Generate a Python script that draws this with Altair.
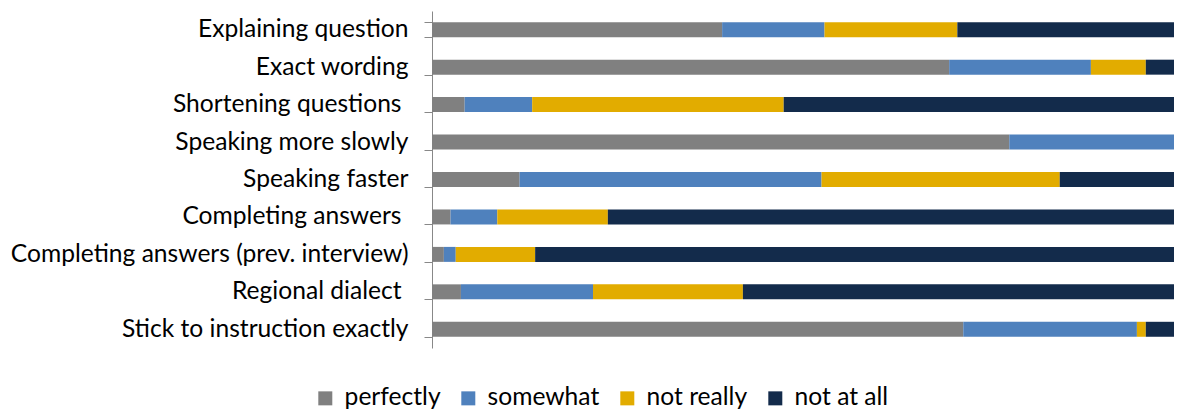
import altair as alt
import pandas as pd

categories = [
    "Explaining question",
    "Exact wording",
    "Shortening questions",
    "Speaking more slowly",
    "Speaking faster",
    "Completing answers",
    "Completing answers (prev. interview)",
    "Regional dialect",
    "Stick to instruction exactly",
]
# labels that carry a trailing space in the original
trailing_space = ["Shortening questions", "Completing answers", "Regional dialect"]
series = ["perfectly", "somewhat", "not really", "not at all"]
perfectly = [39.1, 69.7, 4.4, 77.8, 11.8, 2.5, 1.6, 3.9, 71.6]
somewhat = [13.8, 19.1, 9.1, 22.2, 40.7, 6.3, 1.6, 17.8, 23.4]
not_really = [17.9, 7.4, 33.9, 0.0, 32.1, 14.9, 10.7, 20.2, 1.2]
not_at_all = [29.2, 3.8, 52.6, 0.0, 15.4, 76.3, 86.1, 58.1, 3.8]
colors = ["#808080", "#4F81BD", "#E2AC00", "#132B4B"]

rows = []
for i, c in enumerate(categories):
    for j, (s, vals) in enumerate(zip(series, [perfectly, somewhat, not_really, not_at_all])):
        rows.append({"category": c, "series": s, "value": vals[i], "order": j})
df = pd.DataFrame(rows)

FONT = "Lato"
FS = 24.6

test_expr = "indexof(" + str(trailing_space) + ", datum.value) >= 0"

chart = (
    alt.Chart(df)
    .mark_bar()
    .encode(
        y=alt.Y(
            "category:N",
            sort=categories,
            scale=alt.Scale(paddingInner=0.6, paddingOuter=0.3),
            axis=alt.Axis(
                title=None,
                tickBand="extent",
                tickSize=8,
                tickColor="#888888",
                domainColor="#888888",
                labelFont=FONT,
                labelFontSize=FS,
                labelColor="#000000",
                labelPadding={"condition": {"test": test_expr, "value": 23}, "value": 16},
                labelLimit=600,
            ),
        ),
        x=alt.X("value:Q", stack="normalize", axis=None, scale=alt.Scale(domain=[0, 1])),
        color=alt.Color(
            "series:N",
            sort=series,
            scale=alt.Scale(domain=series, range=colors),
            legend=alt.Legend(
                title=None,
                orient="none",
                direction="horizontal",
                legendX=-119,
                legendY=375,
                symbolType="square",
                symbolSize=196,
                symbolStrokeWidth=0,
                labelFont=FONT,
                labelFontSize=FS,
                labelColor="#000000",
                columnPadding=15,
                labelOffset=7,
            ),
        ),
        order=alt.Order("order:Q"),
    )
    .properties(
        width=742,
        height=337,
        autosize=alt.AutoSizeParams(type="none"),
        padding={"left": 424, "top": 3, "right": 0, "bottom": 64},
    )
    .configure_view(stroke=None)
)

chart.save("out.html", embed_options={"renderer": "svg", "actions": False})
